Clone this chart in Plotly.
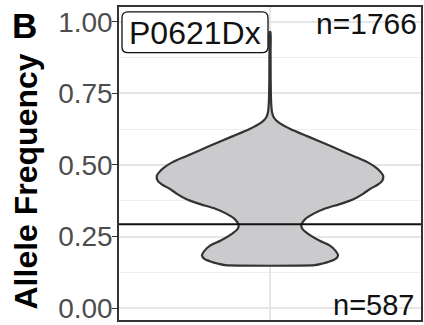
import plotly.graph_objects as go

# Sample label and counts
sample_name = "P0621Dx"
n_total = 1766
n_below = 587
threshold = 0.293

# Violin profile: allele frequency levels and relative density (max = 1)
af_levels = [0.965, 0.90, 0.80, 0.72, 0.684, 0.665, 0.649, 0.625, 0.600, 0.566,
             0.530, 0.510, 0.490, 0.475, 0.462, 0.445, 0.430, 0.417, 0.400, 0.382,
             0.365, 0.347, 0.330, 0.3125, 0.300, 0.289, 0.275, 0.253, 0.235, 0.219,
             0.200, 0.184, 0.172, 0.163, 0.155, 0.150]
rel_density = [0.004, 0.005, 0.006, 0.010, 0.018, 0.035, 0.075, 0.184, 0.333, 0.535,
               0.746, 0.860, 0.939, 0.978, 1.000, 0.991, 0.947, 0.886, 0.825, 0.746,
               0.632, 0.482, 0.386, 0.316, 0.289, 0.276, 0.289, 0.360, 0.439, 0.526,
               0.579, 0.601, 0.579, 0.526, 0.456, 0.395]

y_ticks = [0.0, 0.25, 0.5, 0.75, 1.0]
y_tick_text = ["0.00", "0.25", "0.50", "0.75", "1.00"]

center = 1.0
half_width = 0.45  # violin max half-width in category units

xs_right = [center + half_width * d for d in rel_density]
xs_left = [center - half_width * d for d in rel_density]
vx = xs_right + xs_left[::-1] + [xs_right[0]]
vy = af_levels + af_levels[::-1] + [af_levels[0]]

fig = go.Figure()
fig.add_trace(go.Scatter(
    x=vx, y=vy, mode="lines", fill="toself",
    fillcolor="#CBCACC",
    line=dict(color="#333333", width=2.2, shape="spline", smoothing=0.6),
    hoverinfo="skip", showlegend=False,
))

FONT = "Liberation Sans, Arial, Helvetica, sans-serif"

# plot-area geometry in pixels
L, T, W, H = 119, 7, 304, 315


def px(xp):
    return (xp - L) / W


def py(yp):
    return 1 - (yp - T) / H


def rounded_rect(x0, y0, x1, y1, r):
    rx, ry = r / W, r / H
    X0, X1 = px(x0), px(x1)
    Y0, Y1 = py(y0), py(y1)  # Y0 top, Y1 bottom
    return (f"M {X0+rx},{Y0} L {X1-rx},{Y0} Q {X1},{Y0} {X1},{Y0-ry} "
            f"L {X1},{Y1+ry} Q {X1},{Y1} {X1-rx},{Y1} "
            f"L {X0+rx},{Y1} Q {X0},{Y1} {X0},{Y1+ry} "
            f"L {X0},{Y0-ry} Q {X0},{Y0} {X0+rx},{Y0} Z")


shapes = [
    dict(type="line", xref="paper", yref="y", x0=0, x1=1, y0=threshold, y1=threshold,
         line=dict(color="#111111", width=2), layer="above"),
    dict(type="path", xref="paper", yref="paper", path=rounded_rect(122, 12, 269, 53, 6),
         fillcolor="white", line=dict(color="#111111", width=1.3), layer="above"),
]

annotations = [
    dict(text=sample_name, xref="paper", yref="paper", x=px(195.5), y=py(33),
         xanchor="center", yanchor="middle", showarrow=False,
         font=dict(family=FONT, size=32, color="#111111")),
    dict(text=f"n={n_total}", xref="paper", yref="paper", x=px(421), y=py(24),
         xanchor="right", yanchor="middle", showarrow=False,
         font=dict(family=FONT, size=30, color="#111111")),
    dict(text=f"n={n_below}", xref="paper", yref="paper", x=px(418), y=py(307),
         xanchor="right", yanchor="middle", showarrow=False,
         font=dict(family=FONT, size=29, color="#111111")),
    dict(text="<b>B</b>", xref="paper", yref="paper", x=px(24), y=py(26),
         xanchor="center", yanchor="middle", showarrow=False,
         font=dict(family=FONT, size=35, color="#000000")),
    dict(text="<b>Allele Frequency</b>", xref="paper", yref="paper", x=px(25), y=py(183),
         xanchor="center", yanchor="middle", showarrow=False, textangle=-90,
         font=dict(family=FONT, size=32, color="#000000")),
]

fig.update_layout(
    width=424, height=325,
    margin=dict(l=L, r=424 - L - W, t=T, b=325 - T - H),
    paper_bgcolor="white", plot_bgcolor="white",
    shapes=shapes, annotations=annotations,
    showlegend=False,
    xaxis=dict(range=[0.4, 1.6], tickvals=[1.0], ticktext=[""], showgrid=True,
               gridcolor="#E6E6E6", gridwidth=1.5, zeroline=False,
               showline=True, linecolor="#333333", linewidth=1.5, mirror=True,
               ticks="", fixedrange=True),
    yaxis=dict(range=[-0.0417, 1.0521], tickvals=y_ticks, ticktext=y_tick_text,
               showgrid=True, gridcolor="#E6E6E6", gridwidth=1.5, zeroline=False,
               minor=dict(tickvals=[0.125, 0.375, 0.625, 0.875], showgrid=True,
                          gridcolor="#EEEEEE", gridwidth=1, ticks=""),
               showline=True, linecolor="#333333", linewidth=1.5, mirror=True,
               ticks="outside", ticklen=5, tickwidth=1.2, tickcolor="#333333",
               ticklabeloverflow="allow", ticklabelstandoff=-6,
               tickfont=dict(family=FONT, size=28, color="#4D4D4D"),
               fixedrange=True),
)

fig.write_html("out.html")
